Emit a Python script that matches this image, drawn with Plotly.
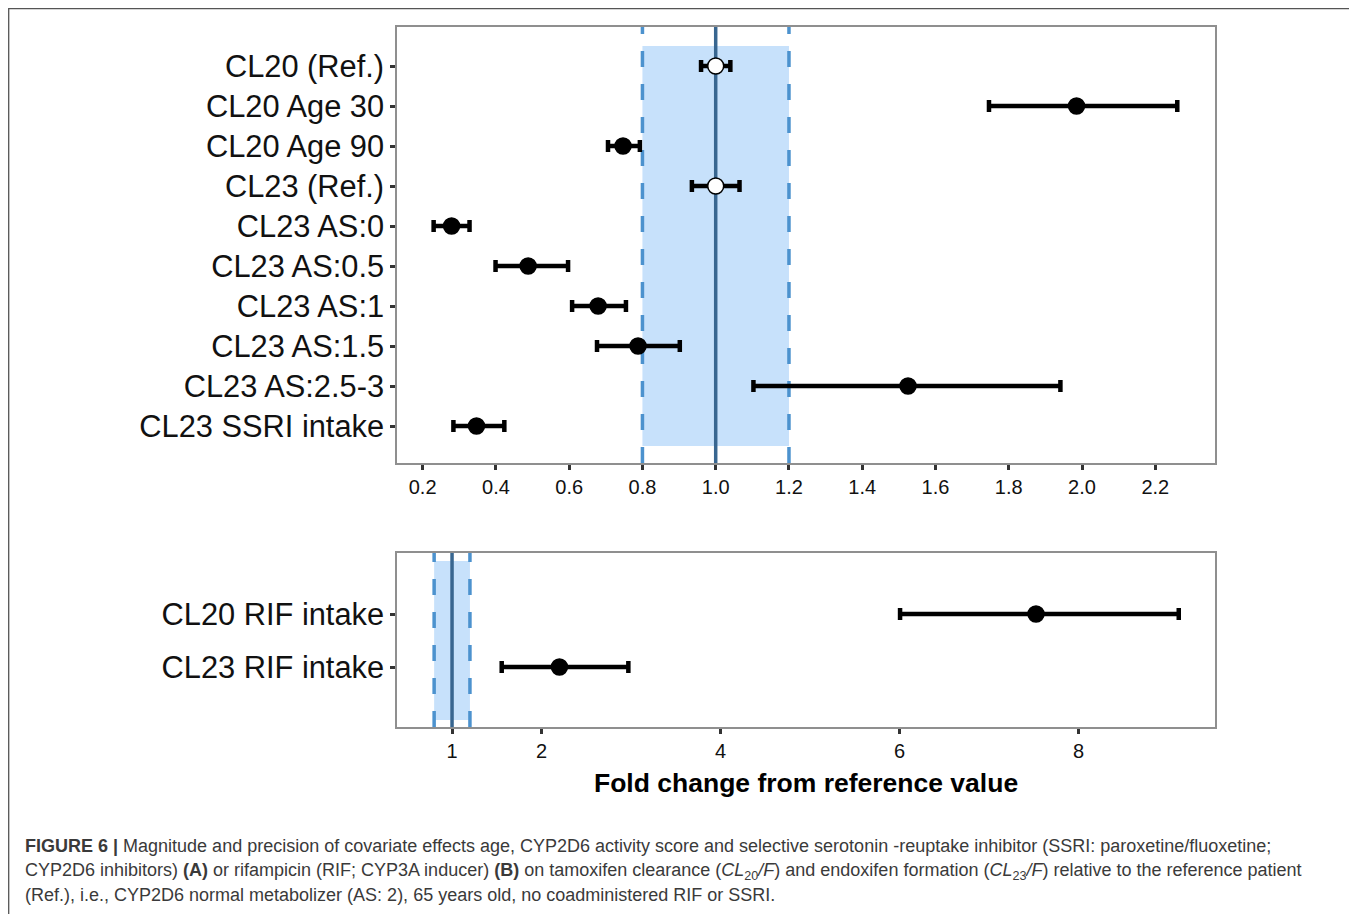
import plotly.graph_objects as go

OFF = 8  # page body margin
W, H = 1357 - OFF, 914 - OFF

# ---- data (panel A) ----
cats_a = ["CL20 (Ref.)", "CL20 Age 30", "CL20 Age 90", "CL23 (Ref.)", "CL23 AS:0",
          "CL23 AS:0.5", "CL23 AS:1", "CL23 AS:1.5", "CL23 AS:2.5-3", "CL23 SSRI intake"]
est_a = [1.00, 1.985, 0.747, 1.00, 0.279, 0.488, 0.679, 0.788, 1.525, 0.347]
lo_a = [0.96, 1.746, 0.706, 0.935, 0.230, 0.399, 0.608, 0.676, 1.103, 0.284]
hi_a = [1.04, 2.260, 0.793, 1.065, 0.328, 0.597, 0.755, 0.902, 1.941, 0.423]
is_ref_a = [True, False, False, True, False, False, False, False, False, False]
ticks_a = [0.2, 0.4, 0.6, 0.8, 1.0, 1.2, 1.4, 1.6, 1.8, 2.0, 2.2]

# ---- data (panel B) ----
cats_b = ["CL20 RIF intake", "CL23 RIF intake"]
est_b = [7.525, 2.20]
lo_b = [6.006, 1.555]
hi_b = [9.12, 2.97]
ticks_b = [1, 2, 4, 6, 8]

# reference band
band_lo, band_ref, band_hi = 0.8, 1.0, 1.2

FONT = "Liberation Sans, Arial, Helvetica, sans-serif"
DASH_C = "#4C92CE"
REF_C = "#386690"
BAND_C = "#C7E1FB"
BORDER_C = "#8F8F8F"
TICK_C = "#333333"

YR_A = [9.925, -0.975]
YR_B = [2.132, -1.151]


def px_x(p):
    return (p - OFF) / W


def px_y(p):
    return 1 - (p - OFF) / H


fig = go.Figure()

ya = list(range(len(cats_a)))
yb = list(range(len(cats_b)))

# panel A traces
for ref in (True, False):
    idx = [i for i in range(len(cats_a)) if is_ref_a[i] == ref]
    fig.add_trace(go.Scatter(
        x=[est_a[i] for i in idx], y=[ya[i] for i in idx], mode="markers",
        xaxis="x", yaxis="y",
        marker=dict(size=16, color="white" if ref else "black",
                    line=dict(color="black", width=1.5)),
        error_x=dict(type="data", symmetric=False,
                     array=[hi_a[i] - est_a[i] for i in idx],
                     arrayminus=[est_a[i] - lo_a[i] for i in idx],
                     color="black", thickness=4.5, width=6),
        showlegend=False, hoverinfo="skip"))

# panel B trace
fig.add_trace(go.Scatter(
    x=est_b, y=yb, mode="markers", xaxis="x2", yaxis="y2",
    marker=dict(size=16, color="black", line=dict(color="black", width=1.5)),
    error_x=dict(type="data", symmetric=False,
                 array=[h - e for h, e in zip(hi_b, est_b)],
                 arrayminus=[e - l for e, l in zip(est_b, lo_b)],
                 color="black", thickness=4.5, width=6),
    showlegend=False, hoverinfo="skip"))

shapes = []
# panel A band & lines
shapes.append(dict(type="rect", xref="x", yref="y", x0=band_lo, x1=band_hi,
                   y0=-0.5, y1=len(cats_a) - 0.5, fillcolor=BAND_C,
                   line=dict(width=0), layer="below"))
for xv in (band_lo, band_hi):
    shapes.append(dict(type="line", xref="x", yref="y", x0=xv, x1=xv, y0=YR_A[0], y1=YR_A[1],
                       line=dict(color=DASH_C, width=3.5, dash="16px,17px"), layer="below"))
shapes.append(dict(type="line", xref="x", yref="y", x0=band_ref, x1=band_ref,
                   y0=YR_A[0], y1=YR_A[1], line=dict(color=REF_C, width=3.5), layer="below"))
# panel B band & lines
shapes.append(dict(type="rect", xref="x2", yref="y2", x0=band_lo, x1=band_hi,
                   y0=-1, y1=len(cats_b), fillcolor=BAND_C,
                   line=dict(width=0), layer="below"))
for xv in (band_lo, band_hi):
    shapes.append(dict(type="line", xref="x2", yref="y2", x0=xv, x1=xv, y0=YR_B[0], y1=YR_B[1],
                       line=dict(color=DASH_C, width=3.5, dash="16px,17px"), layer="below"))
shapes.append(dict(type="line", xref="x2", yref="y2", x0=band_ref, x1=band_ref,
                   y0=YR_B[0], y1=YR_B[1], line=dict(color=REF_C, width=3.5), layer="below"))
# outer frame
shapes.append(dict(type="rect", xref="paper", yref="paper", x0=px_x(8.7), x1=px_x(1351.5),
                   y0=-0.02, y1=px_y(8.7), line=dict(color="#555555", width=1.3),
                   fillcolor="rgba(0,0,0,0)", layer="below"))

axis_common = dict(showline=True, mirror=True, linecolor=BORDER_C, linewidth=1.5,
                   showgrid=False, zeroline=False, ticks="outside", ticklen=5,
                   tickwidth=3, tickcolor=TICK_C)

caption_lines = [
    "<b>FIGURE 6 |</b> Magnitude and precision of covariate effects age, CYP2D6 activity score and selective serotonin -reuptake inhibitor (SSRI: paroxetine/fluoxetine;",
    "CYP2D6 inhibitors) <b>(A)</b> or rifampicin (RIF; CYP3A inducer) <b>(B)</b> on tamoxifen clearance (<i>CL</i><sub>20</sub><i>/F</i>) and endoxifen formation (<i>CL</i><sub>23</sub><i>/F</i>) relative to the reference patient",
    "(Ref.), i.e., CYP2D6 normal metabolizer (AS: 2), 65 years old, no coadministered RIF or SSRI.",
]
caption_y = [846, 871, 895]
annotations = []
for txt, yp in zip(caption_lines, caption_y):
    annotations.append(dict(text=txt, xref="paper", yref="paper", x=px_x(23), y=px_y(yp),
                            xanchor="left", yanchor="middle", showarrow=False, align="left",
                            font=dict(family=FONT, size=18, color="#3a3a3a")))
annotations.append(dict(text="<b>Fold change from reference value</b>", xref="paper", yref="paper",
                        x=px_x(806), y=px_y(783), xanchor="center", yanchor="middle",
                        showarrow=False, font=dict(family=FONT, size=26.5, color="black")))

fig.update_layout(
    width=W, height=H, margin=dict(l=0, r=0, t=0, b=0),
    paper_bgcolor="white", plot_bgcolor="white",
    font=dict(family=FONT, color="black"),
    shapes=shapes, annotations=annotations,
    xaxis=dict(domain=[px_x(397), px_x(1215)], range=[0.13, 2.363], anchor="y",
               tickvals=ticks_a, ticktext=[f"{t:.1f}" for t in ticks_a],
               tickfont=dict(size=20, color="#111111"), **axis_common),
    yaxis=dict(domain=[px_y(463), px_y(27)], range=YR_A, anchor="x",
               tickvals=ya, ticktext=cats_a, tickfont=dict(size=30.8, color="#111111"),
               **axis_common),
    xaxis2=dict(domain=[px_x(397), px_x(1215)], range=[0.385, 9.525], anchor="y2",
                tickvals=ticks_b, ticktext=[str(t) for t in ticks_b],
                tickfont=dict(size=20, color="#111111"), **axis_common),
    yaxis2=dict(domain=[px_y(727), px_y(553)], range=YR_B, anchor="x2",
                tickvals=yb, ticktext=cats_b, tickfont=dict(size=30.8, color="#111111"),
                **axis_common),
)

fig.write_html("out.html")
